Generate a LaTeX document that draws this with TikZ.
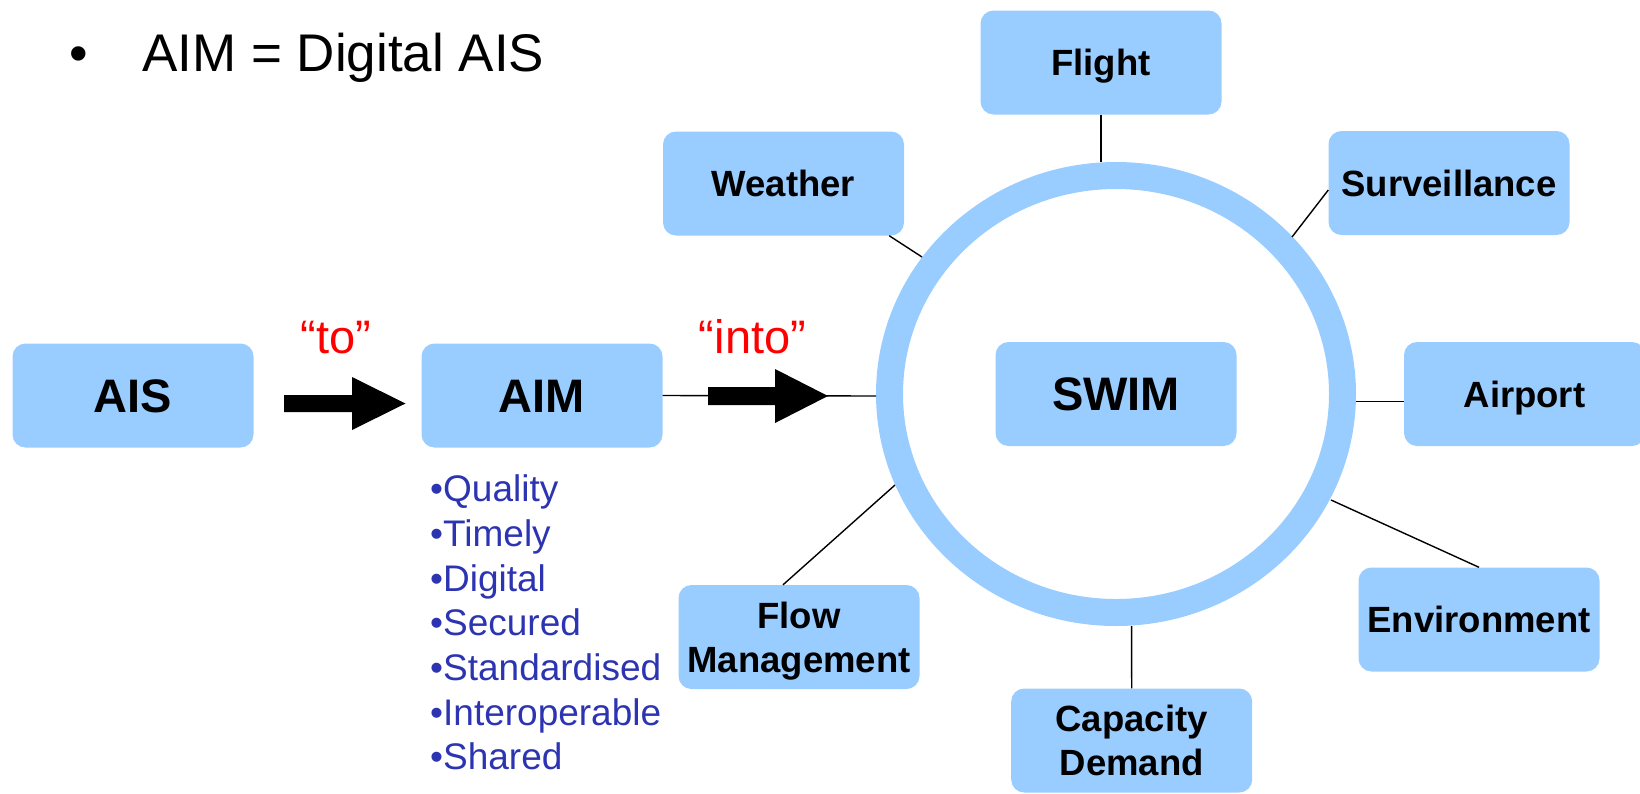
\documentclass[tikz,border=0pt]{standalone}
\usepackage{fontspec}
\setmainfont{Liberation Sans}
\definecolor{boxblue}{RGB}{153,204,255}
\definecolor{listblue}{RGB}{44,52,178}
\begin{document}
\begin{tikzpicture}[x=1pt,y=-1pt,
  box/.style={rectangle, rounded corners=13pt, fill=boxblue, minimum width=241pt, minimum height=104pt, inner sep=0pt, align=center, font=\fontsize{36.5}{44}\selectfont\bfseries},
  onebox/.style={box, text height=26.3pt, text depth=0pt},
  twobox/.style={box, text depth=0pt},
  bigbox/.style={box, text height=33.8pt, text depth=0pt, font=\fontsize{47}{52}\selectfont\bfseries},
  conn/.style={draw=black, line width=1.4pt},
  redlbl/.style={text=red, inner sep=0pt, font=\fontsize{47}{50}\selectfont},
  listitem/.style={anchor=base west, inner sep=0pt, text=listblue, font=\fontsize{37}{40}\selectfont},
  blockarrow/.style={fill=black}]
\useasboundingbox (0,0) rectangle (1640,793);

% title
\node[anchor=base west, inner sep=0pt, font=\fontsize{53}{60}\selectfont] (tbullet) at (69,71) {•};
\node[anchor=base west, inner sep=0pt, font=\fontsize{53}{60}\selectfont] (title) at (142,71) {AIM = Digital AIS};

% ring
\draw[boxblue, line width=27pt] (1116,394) ellipse [x radius=226.5pt, y radius=218.5pt];

% ring contact points
\coordinate (rFlight) at (1101,162);
\coordinate (rWeather) at (922,257);
\coordinate (rSurv) at (1292,237);
\coordinate (rAirport) at (1356,401.5);
\coordinate (rEnv) at (1331,500);
\coordinate (rCap) at (1131.6,626);
\coordinate (rFlow) at (895,485);
\coordinate (rAIM) at (876,396);

% boxes
\node[bigbox] (ais) at (133,395.5) {AIS};
\node[bigbox] (aim) at (542,395.5) {AIM};
\node[bigbox] (swim) at (1116,394) {SWIM};
\node[onebox] (flight) at (1101,62.5) {Flight};
\node[onebox] (weather) at (783.5,183.5) {Weather};
\node[onebox] (surv) at (1449,183) {Surveillance};
\node[onebox] (airport) at (1524.5,394) {Airport};
\node[onebox] (env) at (1479,619.5) {Environment};
\node[twobox] (flow) at (799,637) {Flow\\Management};
\node[twobox] (cap) at (1131.7,740.5) {Capacity\\Demand};

% connectors
\draw[conn] (flight.south) -- (rFlight);
\draw[conn] ([xshift=-15pt]weather.south east) -- (rWeather);
\draw[conn] ([yshift=-7pt]surv.west) -- (rSurv);
\draw[conn] ([yshift=-7.5pt]airport.west) -- (rAirport);
\draw[conn] (env.north) -- (rEnv);
\draw[conn] (cap.north) -- (rCap);
\draw[conn] ([xshift=-16pt]flow.north) -- (rFlow);
\draw[conn] (aim.east) -- (rAIM);

% block arrows
\fill[blockarrow] (284,395) -- (352,395) -- (352,377) -- (405.5,403.5) -- (352,430) -- (352,412) -- (284,412) -- cycle;
\fill[blockarrow] (708,387) -- (775,387) -- (775,369) -- (828,396) -- (775,423) -- (775,405) -- (708,405) -- cycle;

% red labels
\node[redlbl, anchor=base] (lto) at (336,353) {“to”};
\node[redlbl, anchor=base] (linto) at (752.5,353) {“into”};

% list
\node[listitem] (l1) at (430,501.7) {•Quality};
\node[listitem] (l2) at (430,546.4) {•Timely};
\node[listitem] (l3) at (430,591.1) {•Digital};
\node[listitem] (l4) at (430,635.8) {•Secured};
\node[listitem] (l5) at (430,680.5) {•Standardised};
\node[listitem] (l6) at (430,725.2) {•Interoperable};
\node[listitem] (l7) at (430,769.9) {•Shared};
\end{tikzpicture}
\end{document}
